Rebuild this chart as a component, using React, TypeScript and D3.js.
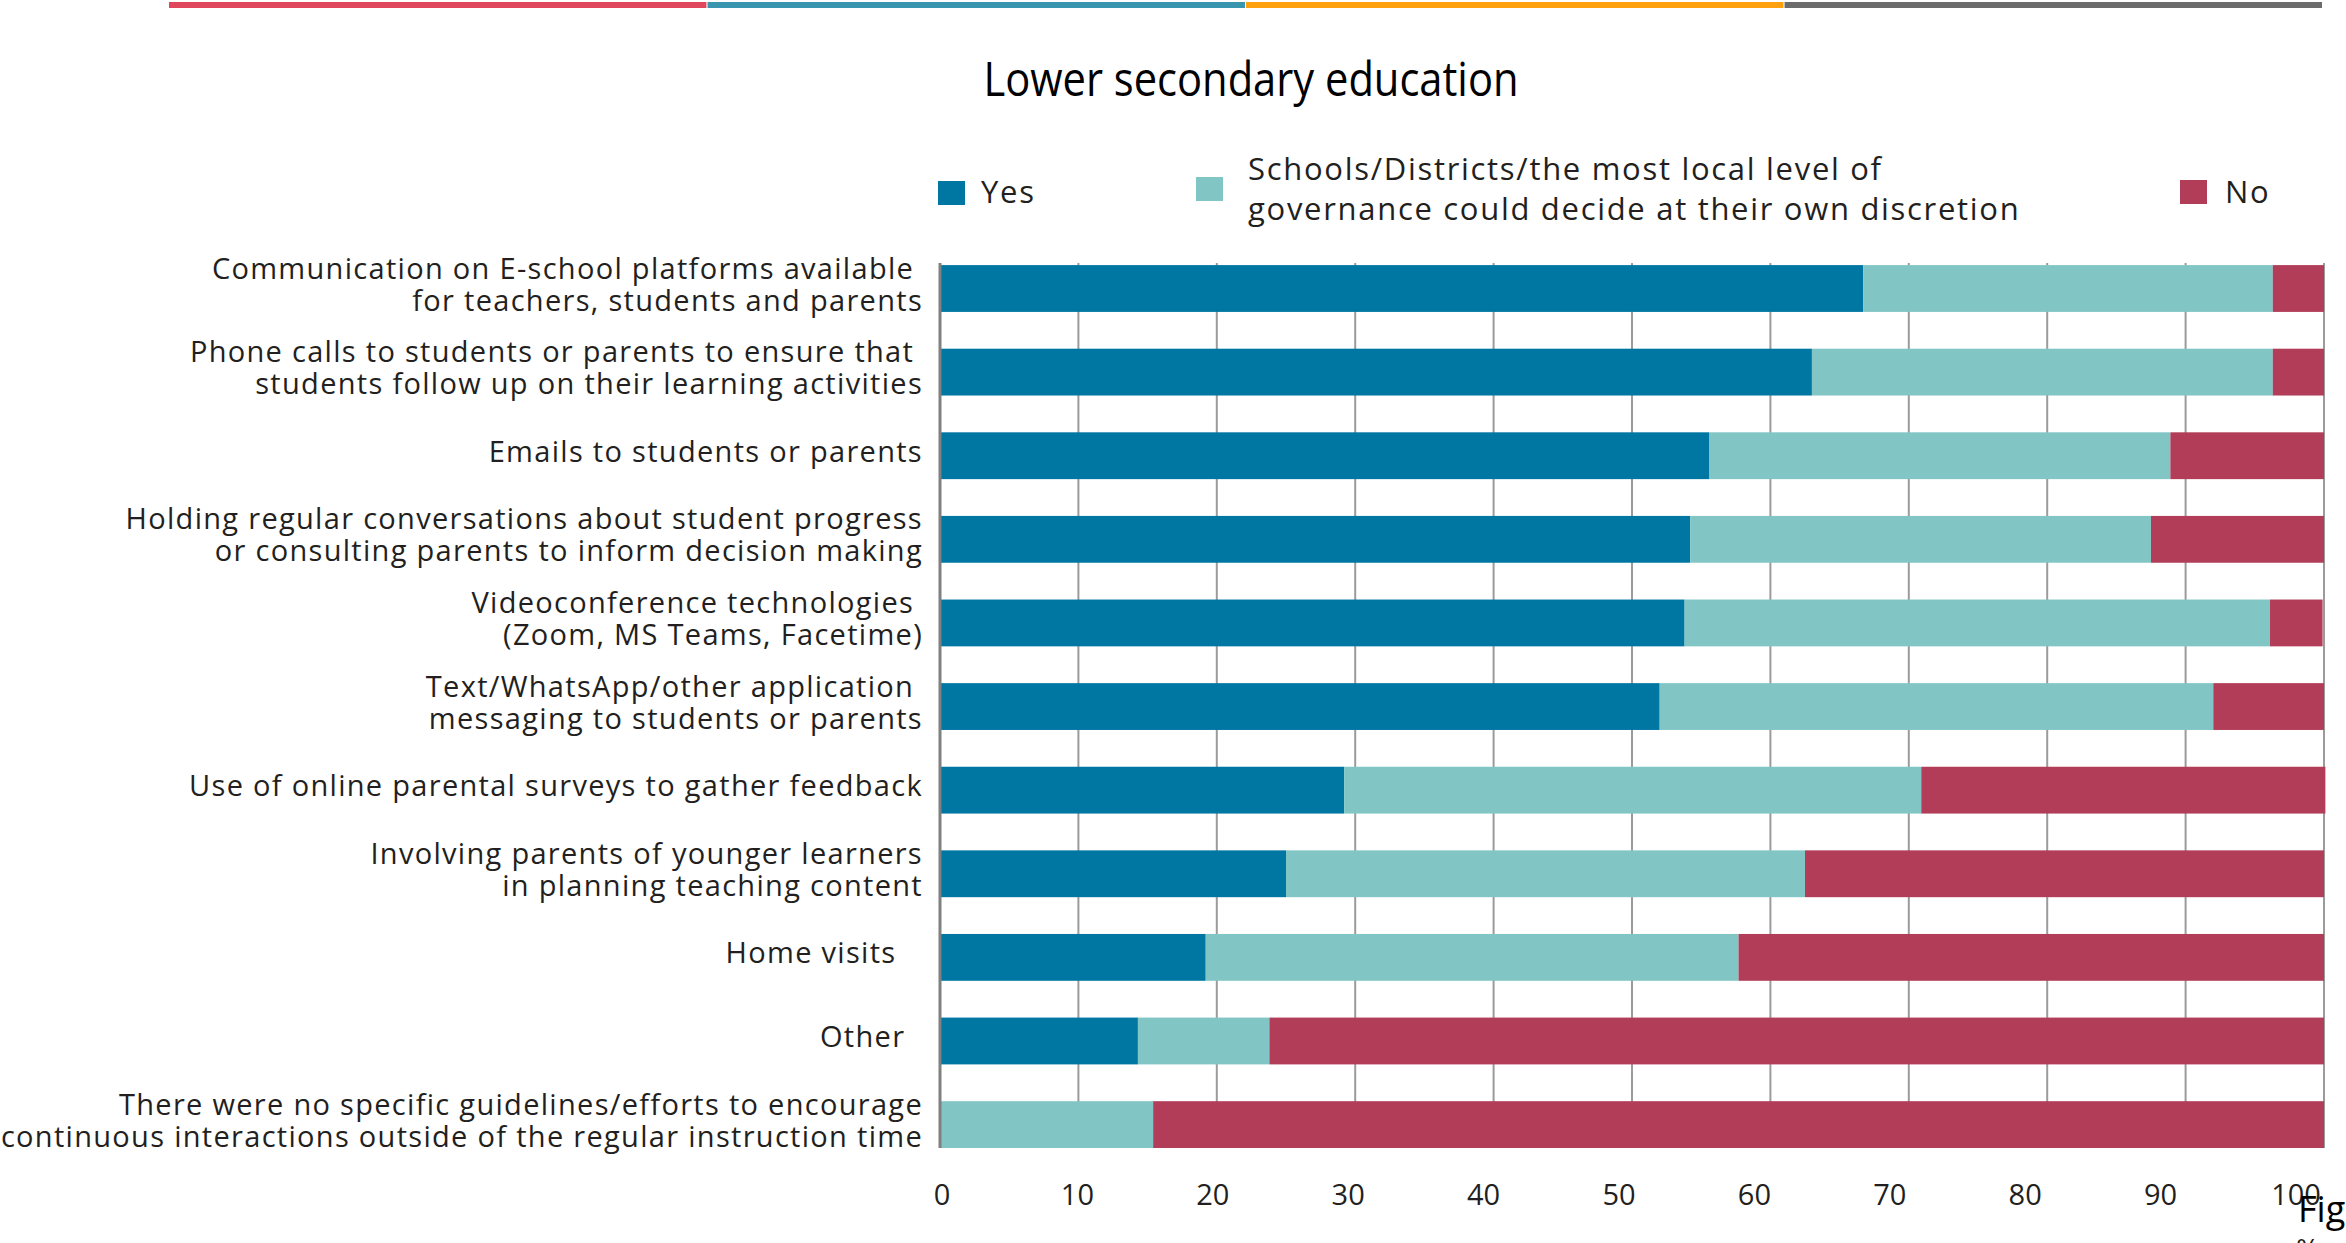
import React from "react";
import * as d3 from "d3";

const categories: string[][] = [
  ["Communication on E-school platforms available ", "for teachers, students and parents"],
  ["Phone calls to students or parents to ensure that ", "students follow up on their learning activities"],
  ["Emails to students or parents"],
  ["Holding regular conversations about student progress", "or consulting parents to inform decision making"],
  ["Videoconference technologies ", "(Zoom, MS Teams, Facetime)"],
  ["Text/WhatsApp/other application ", "messaging to students or parents"],
  ["Use of online parental surveys to gather feedback"],
  ["Involving parents of younger learners", "in planning teaching content"],
  ["Home visits   "],
  ["Other  "],
  ["There were no specific guidelines/efforts to encourage", "continuous interactions outside of the regular instruction time"],
];

const yesValues = [66.7, 63.0, 55.6, 54.2, 53.8, 52.0, 29.2, 25.0, 19.2, 14.3, 0];
const discretionValues = [29.6, 33.3, 33.3, 33.3, 42.3, 40.0, 41.7, 37.5, 38.5, 9.5, 15.4];
const noValues = [3.7, 3.7, 11.1, 12.5, 3.8, 8.0, 29.2, 37.5, 42.3, 76.2, 84.6];

const seriesKeys = ["yes", "discretion", "no"];
const seriesLabels: Record<string, string[]> = {
  yes: ["Yes"],
  discretion: ["Schools/Districts/the most local level of", "governance could decide at their own discretion"],
  no: ["No"],
};
const seriesColors: Record<string, string> = {
  yes: "#0077A3",
  discretion: "#81C6C5",
  no: "#B23D58",
};

const xTicks = [0, 10, 20, 30, 40, 50, 60, 70, 80, 90, 100];
const topStripColors = ["#E0475D", "#3A96AE", "#FFA10F", "#6B6B6B"];

const title = "Lower secondary education";

const W = 2346;
const H = 1243;
const labelFont = "'Open Sans', 'Noto Sans', sans-serif";
const textColor = "#231F20";

export default function App() {
  const rows = categories.map((c, i) => ({
    idx: i,
    yes: yesValues[i],
    discretion: discretionValues[i],
    no: noValues[i],
  }));
  const stack = d3.stack<any>().keys(seriesKeys);
  const stacked = stack(rows);

  const x = d3.scaleLinear().domain([0, 100]).range([940, 2324]);
  const xLabel = d3.scaleLinear().domain([0, 100]).range([942, 2296]);
  const y = d3
    .scaleBand<number>()
    .domain(rows.map((r) => r.idx))
    .range([246.7, 1166.4])
    .paddingInner(0.44)
    .paddingOuter(0.22);

  const gridTop = 263;
  const gridBottom = 1148;

  const strip = d3.scaleBand<number>().domain([0, 1, 2, 3]).range([169, 2322]).paddingInner(0.002);

  const lineH = 32;

  return (
    <svg
      width={W}
      height={H}
      style={{ position: "absolute", left: 0, top: 0, background: "#fff" }}
    >
      <rect x={0} y={0} width={W} height={H} fill="#fff" />
      {topStripColors.map((c, i) => (
        <rect key={i} x={strip(i)} y={2} width={strip.bandwidth()} height={6} fill={c} />
      ))}

      <text
        x={1251}
        y={96}
        textAnchor="middle"
        fontFamily="'Open Sans', sans-serif"
        fontSize={47}
        textLength={535}
        lengthAdjust="spacingAndGlyphs"
        fill="#000"
      >
        {title}
      </text>

      {/* legend */}
      <g fontFamily={labelFont} fontSize={31} fill={textColor} letterSpacing={1.7}>
        <rect x={938} y={181} width={27} height={24} fill={seriesColors.yes} />
        <text x={981} y={203}>{seriesLabels.yes[0]}</text>
        <rect x={1196} y={177} width={27} height={24} fill={seriesColors.discretion} />
        {seriesLabels.discretion.map((l, i) => (
          <text key={i} x={1248} y={180 + i * 40}>{l}</text>
        ))}
        <rect x={2180} y={180} width={27} height={24} fill={seriesColors.no} />
        <text x={2225} y={203}>{seriesLabels.no[0]}</text>
      </g>

      {/* gridlines */}
      {xTicks.filter((t) => t > 0).map((t) => (
        <line key={t} x1={x(t)} x2={x(t)} y1={gridTop} y2={gridBottom} stroke="#9b9b9b" strokeWidth={2} />
      ))}

      {/* bars */}
      {stacked.map((s) => (
        <g key={s.key} fill={seriesColors[s.key]}>
          {s.map((d, i) => (
            <rect
              key={i}
              x={x(d[0])}
              y={y(i)}
              width={Math.max(0, x(d[1]) - x(d[0]))}
              height={y.bandwidth()}
            />
          ))}
        </g>
      ))}

      {/* axis */}
      <line x1={x(0)} x2={x(0)} y1={gridTop} y2={gridBottom} stroke="#808080" strokeWidth={3} />

      {/* category labels */}
      <g fontFamily={labelFont} fontSize={29} fill={textColor} textAnchor="end" letterSpacing={1.3}>
        {categories.map((lines, i) => {
          const cy = (y(i) as number) + y.bandwidth() / 2 - 4;
          const start = cy - ((lines.length - 1) * lineH) / 2;
          return lines.map((l, j) => (
            <text key={`${i}-${j}`} x={923} y={start + j * lineH + 10} style={{ whiteSpace: "pre" }}>
              {l}
            </text>
          ));
        })}
      </g>

      {/* x tick labels */}
      <g fontFamily={labelFont} fontSize={29} fill={textColor} textAnchor="middle">
        {xTicks.map((t) => (
          <text key={t} x={xLabel(t)} y={1205}>{t}</text>
        ))}
      </g>

      <text x={2296} y={1259} fontFamily={labelFont} fontSize={28} fill={textColor}>%</text>
      <text x={2298} y={1222} fontFamily="'Open Sans', sans-serif" fontSize={36} fill="#000">Figure</text>
    </svg>
  );
}
